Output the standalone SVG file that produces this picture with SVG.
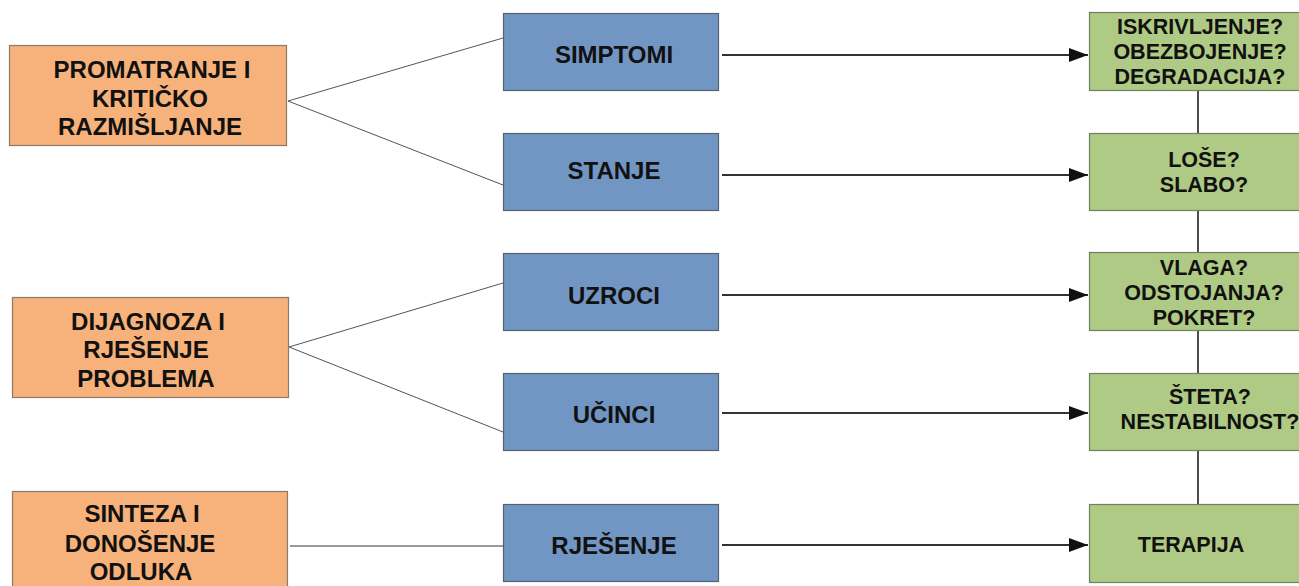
<svg xmlns="http://www.w3.org/2000/svg" width="1299" height="586" viewBox="0 0 1299 586">
<style>
.o{fill:#F7B17A;stroke:#8a7a6a;stroke-width:1.2}
.b{fill:#7296C3;stroke:#55606e;stroke-width:1.2}
.g{fill:#AFCA84;stroke:#6f7f5f;stroke-width:1.2}
text{font-family:"Liberation Sans",Arial,sans-serif;font-weight:bold;fill:#111;text-anchor:middle}
.t24{font-size:24px}
.t21{font-size:21.5px}
.thin{stroke:#555;stroke-width:1;fill:none}
.gray{stroke:#777;stroke-width:1.6;fill:none}
.arr{stroke:#333;stroke-width:2.2;fill:none;marker-end:url(#ah)}
.v{stroke:#222;stroke-width:1.6;fill:none}
</style>
<defs>
<marker id="ah" markerUnits="userSpaceOnUse" markerWidth="20" markerHeight="14" refX="19" refY="7" orient="auto">
<path d="M0,0 L19,7 L0,14 Z" fill="#111"/>
</marker>
</defs>
<rect width="1299" height="586" fill="#fff"/>
<g id="connectors">
<path class="thin" d="M288,101 L503,38 M288,101 L503,185"/>
<path class="thin" d="M289,347 L503,283 M289,347 L503,432"/>
<path class="gray" d="M290,546 L503,546"/>
<path class="arr" d="M722,55 L1088,55"/>
<path class="arr" d="M722,175 L1088,175"/>
<path class="arr" d="M722,295 L1088,295"/>
<path class="arr" d="M722,413 L1088,413"/>
<path class="arr" d="M722,545 L1088,545"/>
<path class="v" d="M1198,91 V133 M1198,211 V252 M1198,331 V373 M1198,451 V504"/>
</g>
<g id="n-promatranje">
<rect class="o" x="9.5" y="45.5" width="277" height="100"/>
<text class="t24" x="152" y="78">PROMATRANJE I</text>
<text class="t24" x="150" y="107">KRITIČKO</text>
<text class="t24" x="150" y="135">RAZMIŠLJANJE</text>
</g>
<g id="n-dijagnoza">
<rect class="o" x="12.5" y="297.5" width="276" height="100"/>
<text class="t24" x="148" y="330">DIJAGNOZA I</text>
<text class="t24" x="146" y="358">RJEŠENJE</text>
<text class="t24" x="146" y="387">PROBLEMA</text>
</g>
<g id="n-sinteza">
<rect class="o" x="12.5" y="491.5" width="275" height="100"/>
<text class="t24" x="142" y="522">SINTEZA I</text>
<text class="t24" x="140" y="552">DONOŠENJE</text>
<text class="t24" x="141" y="580">ODLUKA</text>
</g>
<g id="n-simptomi">
<rect class="b" x="503.5" y="13.5" width="215" height="77"/>
<text class="t24" x="614" y="63">SIMPTOMI</text>
</g>
<g id="n-stanje">
<rect class="b" x="503.5" y="133.5" width="215" height="77"/>
<text class="t24" x="614" y="179">STANJE</text>
</g>
<g id="n-uzroci">
<rect class="b" x="503.5" y="253.5" width="215" height="77"/>
<text class="t24" x="614" y="304">UZROCI</text>
</g>
<g id="n-ucinci">
<rect class="b" x="503.5" y="373.5" width="215" height="77"/>
<text class="t24" x="614" y="423">UČINCI</text>
</g>
<g id="n-rjesenje">
<rect class="b" x="503.5" y="504.5" width="215" height="77"/>
<text class="t24" x="614" y="554">RJEŠENJE</text>
</g>
<g id="n-iskrivljenje">
<rect class="g" x="1089.5" y="12.5" width="220" height="78"/>
<text class="t21" x="1200" y="34">ISKRIVLJENJE?</text>
<text class="t21" x="1200" y="59">OBEZBOJENJE?</text>
<text class="t21" x="1200" y="84">DEGRADACIJA?</text>
</g>
<g id="n-lose">
<rect class="g" x="1089.5" y="133.5" width="220" height="77"/>
<text class="t21" x="1204" y="167">LOŠE?</text>
<text class="t21" x="1204" y="192">SLABO?</text>
</g>
<g id="n-vlaga">
<rect class="g" x="1089.5" y="252.5" width="220" height="78"/>
<text class="t21" x="1204" y="275">VLAGA?</text>
<text class="t21" x="1204" y="300">ODSTOJANJA?</text>
<text class="t21" x="1204" y="325">POKRET?</text>
</g>
<g id="n-steta">
<rect class="g" x="1089.5" y="373.5" width="220" height="77"/>
<text class="t21" x="1210" y="404">ŠTETA?</text>
<text class="t21" x="1210" y="429">NESTABILNOST?</text>
</g>
<g id="n-terapija">
<rect class="g" x="1089.5" y="504.5" width="220" height="78"/>
<text class="t21" x="1191" y="552">TERAPIJA</text>
</g>
</svg>
